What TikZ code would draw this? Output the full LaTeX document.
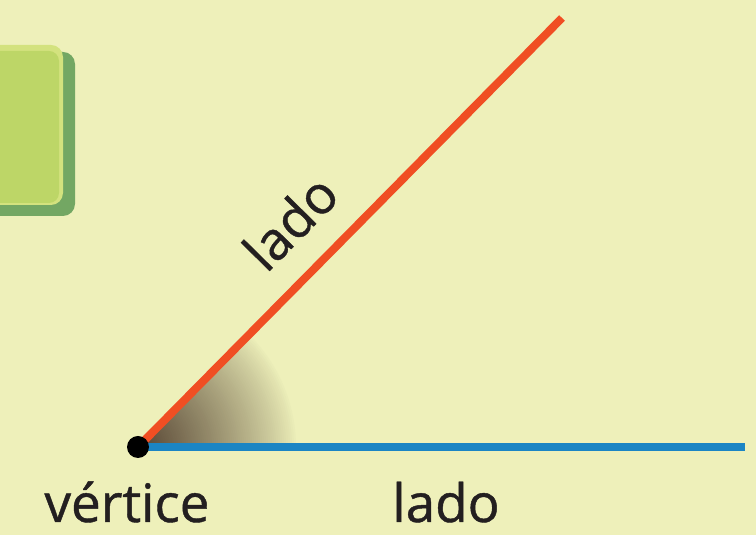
\documentclass[tikz,border=0pt]{standalone}
\usepackage{fontspec}
\setmainfont{Open Sans}[FakeBold=0.8]
\definecolor{bg}{HTML}{EEF0BA}
\definecolor{redl}{HTML}{F04E23}
\definecolor{bluel}{HTML}{1B85C4}
\definecolor{brownc}{HTML}{4E3B2C}
\definecolor{sqmain}{HTML}{BDD667}
\definecolor{sqtop}{HTML}{D3E27E}
\definecolor{sqshadow}{HTML}{73A763}
\definecolor{txt}{HTML}{231F20}
\tikzset{
  lbl/.style={text=txt, font=\fontsize{53}{60}\selectfont, inner sep=0pt},
  side/.style={line width=8pt, line cap=butt}
}
\begin{document}
\begin{tikzpicture}[x=1pt,y=1pt]
\useasboundingbox (0,0) rectangle (756,535);
\fill[bg] (0,0) rectangle (756,535);
\clip (0,0) rectangle (756,535);
% green square with shadow
\fill[sqshadow, rounded corners=12pt] (-30,319) rectangle (75,483);
\fill[sqtop, rounded corners=12pt] (-30,330) rectangle (63,490);
\fill[sqmain, rounded corners=10pt] (-30,332) rectangle (59,484);
% vertex and sides
\coordinate (V) at (138,88);
\coordinate (R) at (562,517);
\coordinate (B) at (745,88);
% shaded angle
\foreach \i in {80,79,...,1} {
  \pgfmathsetmacro{\rr}{160*\i/80}
  \pgfmathsetmacro{\pc}{95*(1-\i/80)^0.85}
  \fill[brownc!\pc!bg] (V) -- ++(0:\rr) arc[start angle=0, end angle=45.34, radius=\rr] -- cycle;
}
\draw[side, redl] (V) -- (R);
\draw[side, bluel] (V) -- (B);
\fill[black] (V) circle (11);
% labels
\node[lbl, anchor=base] (v) at (127,13) {vértice};
\node[lbl, anchor=base] (l1) at (446,13) {lado};
\node[lbl, rotate=45.34] (l2) at (290,313) {lado};
\end{tikzpicture}
\end{document}
